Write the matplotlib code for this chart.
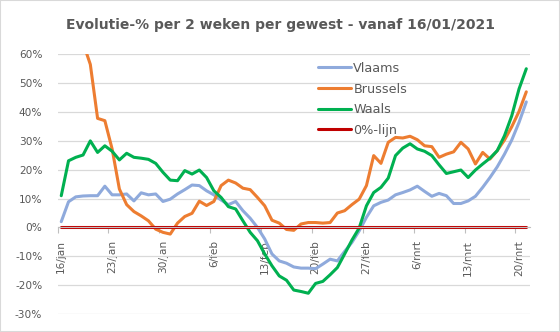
import numpy as np
import matplotlib.pyplot as plt
from matplotlib.patches import Rectangle

# evolutie-% per 2 weken, een waarde per dag van 16/01/2021 t/m 21/03/2021
vlaams = [2.0, 8.9, 10.6, 10.9, 11.0, 11.0, 14.3, 11.3, 11.3, 11.6,
          9.2, 12.0, 11.3, 11.6, 9.0, 9.8, 11.6, 13.1, 14.7, 14.5,
          12.7, 11.3, 9.5, 7.9, 9.0, 5.8, 3.2, 0.0, -4.0, -9.2,
          -11.6, -12.4, -13.7, -14.1, -14.1, -14.3, -12.7, -11.0, -11.6, -8.3,
          -5.2, -1.2, 3.5, 7.5, 8.7, 9.5, 11.3, 12.1, 13.0, 14.3,
          12.5, 10.8, 11.8, 11.0, 8.3, 8.3, 9.2, 10.8, 13.9, 17.3,
          21.0, 25.4, 30.3, 36.4, 43.5]
brussel = [95.0, 88.0, 78.0, 64.0, 56.5, 37.8, 37.0, 27.2, 13.3, 7.9,
           5.5, 4.0, 2.3, -0.6, -1.7, -2.3, 1.5, 3.8, 4.9, 9.1,
           7.6, 9.0, 14.5, 16.4, 15.4, 13.6, 13.1, 10.4, 7.5, 2.5,
           1.5, -0.7, -1.0, 1.2, 1.7, 1.7, 1.5, 1.7, 5.0, 5.8,
           7.9, 9.8, 14.5, 24.9, 22.2, 29.5, 31.2, 31.0, 31.6, 30.4,
           28.3, 28.0, 24.3, 25.4, 26.2, 29.5, 27.2, 22.0, 26.0, 23.7,
           26.6, 30.3, 34.9, 40.2, 47.0]
waals = [11.0, 23.1, 24.3, 25.1, 30.0, 26.0, 28.3, 26.4, 23.4, 25.7,
         24.3, 24.0, 23.6, 22.2, 19.1, 16.4, 16.2, 19.7, 18.5, 19.9,
         17.3, 12.7, 10.4, 7.2, 6.4, 2.3, -1.7, -4.6, -9.2, -13.3,
         -16.8, -18.3, -21.7, -22.2, -22.8, -19.4, -18.7, -16.4, -13.9, -9.2,
         -4.4, -0.2, 7.5, 12.1, 13.9, 17.1, 24.9, 27.5, 29.0, 27.2,
         26.4, 24.9, 21.7, 18.7, 19.3, 19.9, 17.3, 19.9, 22.0, 24.0,
         26.6, 31.8, 38.7, 48.0, 55.0]
nul_lijn = [0.0] * len(vlaams)

datum_labels = ['16/jan', '23/jan', '30/jan', '6/feb', '13/feb',
                '20/feb', '27/feb', '6/mrt', '13/mrt', '20/mrt']
y_ticks = [-30, -20, -10, 0, 10, 20, 30, 40, 50, 60]

grijs = '#595959'

fig = plt.figure(figsize=(5.6, 3.32), dpi=100)
fig.patches.append(Rectangle((0, 0), 1, 1, transform=fig.transFigure,
                             fill=False, edgecolor='#D9D9D9', lw=1.5))
ax = fig.add_axes([0.1029, 0.0542, 0.8434, 0.7822])

x = np.arange(len(vlaams)) + 0.5
series = [('Vlaams', vlaams, '#8FAADC'),
          ('Brussels', brussel, '#ED7D31'),
          ('Waals', waals, '#00B050'),
          ('0%-lijn', nul_lijn, '#C00000')]
for naam, vals, kleur in series:
    ax.plot(x, vals, color=kleur, lw=2.2, label=naam, solid_capstyle='round')

ax.set_xlim(0, 65)
ax.set_ylim(-30, 60)
ax.set_yticks(y_ticks)
ax.set_yticklabels(['%d%%' % v for v in y_ticks])
ax.grid(axis='y', color='#D9D9D9', lw=0.9)
ax.set_axisbelow(True)

# tick marks on the day boundaries, labels centred on the day
ax.set_xticks(np.arange(0, 64, 7))
ax.set_xticklabels([])
ax.set_xticks(np.arange(0, 64, 7) + 0.5, minor=True)
ax.set_xticklabels(datum_labels, minor=True)
ax.tick_params(axis='x', which='major', length=4, color='#BFBFBF', direction='out')
ax.tick_params(axis='x', which='minor', length=0, pad=9, labelsize=7.6,
               labelcolor=grijs, labelrotation=90)
for lbl in ax.get_xticklabels(minor=True):
    lbl.set_va('top')
    lbl.set_ha('center')
ax.tick_params(axis='y', length=0, pad=11, labelsize=7.6, labelcolor=grijs)

for s in ['top', 'right', 'left']:
    ax.spines[s].set_visible(False)
ax.spines['bottom'].set_position(('data', 0))
ax.spines['bottom'].set_color('#BFBFBF')

leg = ax.legend(loc='upper left', bbox_to_anchor=(0.526, 1.015), frameon=False,
                fontsize=9.2, handlelength=2.6, handletextpad=0.2,
                labelspacing=0.6, borderpad=0.4)
for t in leg.get_texts():
    t.set_color(grijs)

fig.text(0.5, 0.924, 'Evolutie-% per 2 weken per gewest - vanaf 16/01/2021',
         ha='center', va='center', fontsize=10, fontweight='bold', color=grijs)

fig.savefig('out.png', dpi=100)
